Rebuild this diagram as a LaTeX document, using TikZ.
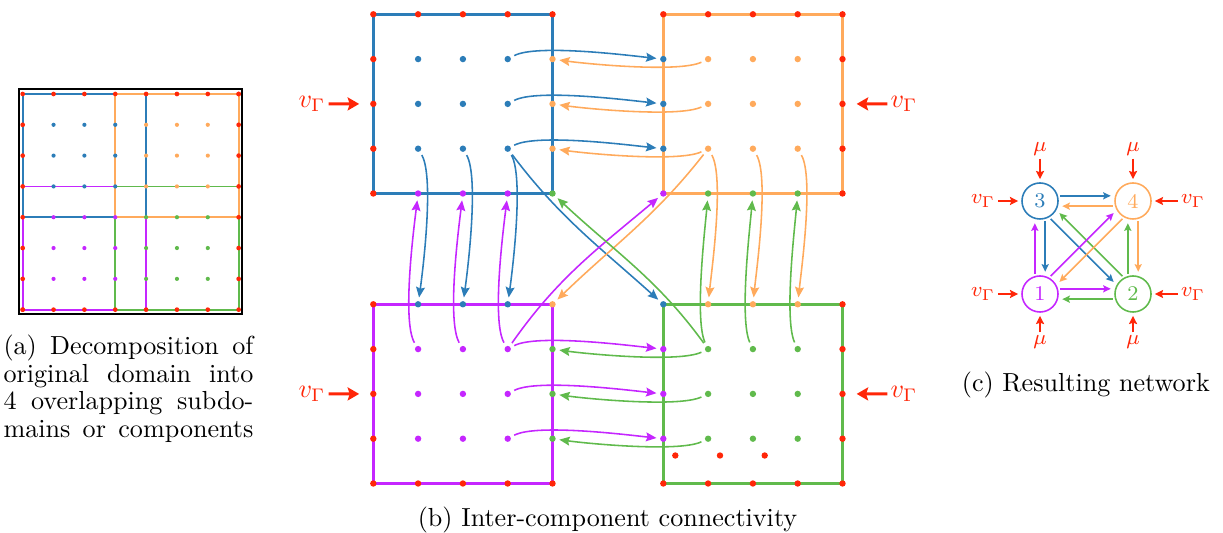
\documentclass[tikz,border=0pt]{standalone}
\usepackage{amsmath,amssymb}
\usepackage{tikz}
\usetikzlibrary{arrows.meta}

\definecolor{cblue}{RGB}{44,125,184}
\definecolor{corange}{RGB}{255,170,92}
\definecolor{cpurple}{RGB}{197,38,255}
\definecolor{cgreen}{RGB}{96,186,76}
\definecolor{cred}{RGB}{255,38,8}

\tikzset{
  gdot/.style={circle,fill=#1,inner sep=0pt,minimum size=2.45pt},
  link/.style={#1,line width=0.6pt,looseness=0.5,-{Stealth[length=4pt,width=3.4pt,inset=0.6pt]},shorten <=1.4pt,shorten >=1.2pt},
  feed/.style={cred,line width=1.15pt,-{Stealth[length=4.4pt,width=5pt,inset=0.8pt]},shorten >=4pt},
  comp/.style={circle,draw=#1,text=#1,line width=0.6pt,minimum size=13.8pt,inner sep=0pt,font=\fontsize{8}{9}\selectfont},
  net/.style={#1,line width=0.6pt,-{Stealth[length=2.9pt,width=2.7pt,inset=0.5pt]},shorten <=0.8pt,shorten >=1.6pt},
  inflow/.style={cred,line width=0.8pt,-{Stealth[length=3.1pt,width=3.1pt,inset=0.5pt]},shorten >=1.2pt},
  lbl/.style={text=cred,inner sep=1pt},
}

\begin{document}
\begin{tikzpicture}[x=0.383pt,y=-0.383pt]
\useasboundingbox (0,0) rectangle (1223,533);

% (a) domain and its four overlapping parts
\draw[line width=0.75pt] (19,89) rectangle (242,314);
\begin{scope}[shift={(22.7,94)},x=11.815pt,y=-11.8pt]
  \draw[cpurple,line width=0.7pt] (0,3) rectangle (4,7);
  \draw[cgreen,line width=0.7pt] (3,3) rectangle (7,7);
  \draw[cblue,line width=0.7pt] (0,0) rectangle (4,4);
  \draw[corange,line width=0.7pt] (3,0) rectangle (7,4);
  \foreach \j in {1,2,3} {
    \foreach \i in {1,2,3} \fill[cblue] (\i,\j) circle (0.8pt);
    \foreach \i in {4,5,6} \fill[corange] (\i,\j) circle (0.8pt);
  }
  \foreach \j in {4,5,6} {
    \foreach \i in {1,2,3} \fill[cpurple] (\i,\j) circle (0.8pt);
    \foreach \i in {4,5,6} \fill[cgreen] (\i,\j) circle (0.8pt);
  }
  \foreach \k in {0,...,7}
    \fill[cred] (\k,0) circle (0.9pt) (\k,7) circle (0.9pt) (0,\k) circle (0.9pt) (7,\k) circle (0.9pt);
\end{scope}
\node[anchor=north west,inner sep=0pt,align=left,font=\fontsize{10}{10.7}\selectfont] (capA) at (3,334)
  {\makebox[95.7pt][s]{(a) Decomposition of}\\
   \makebox[95.7pt][s]{original domain into}\\
   \makebox[95.7pt][s]{4 overlapping subdo-}\\
   \makebox[95.7pt][s]{mains or components}};

% (b) the four components, points coloured by their owner
\foreach \nm/\ox/\oy/\cc/\hc/\vc/\dc/\hside/\vside in {
    B/373.3/14.3/cblue/corange/cpurple/cgreen/4/4,
    O/663.3/14.3/corange/cblue/cgreen/cpurple/0/4,
    P/373.3/304.3/cpurple/cgreen/cblue/corange/4/0,
    G/663.3/304.3/cgreen/cpurple/corange/cblue/0/0} {
  \draw[\cc,line width=1pt] (\ox,\oy) rectangle ++(179.2,179.2);
  \foreach \i in {0,...,4} \foreach \j in {0,...,4} {
    \edef\pc{cred}
    \ifnum\i>0 \ifnum\i<4 \ifnum\j>0 \ifnum\j<4 \edef\pc{\cc}\fi\fi\fi\fi
    \ifnum\i=\hside\relax \ifnum\j>0 \ifnum\j<4 \edef\pc{\hc}\fi\fi\fi
    \ifnum\j=\vside\relax \ifnum\i>0 \ifnum\i<4 \edef\pc{\vc}\fi\fi\fi
    \ifnum\i=\hside\relax \ifnum\j=\vside\relax \edef\pc{\dc}\fi\fi
    \node[gdot=\pc] (\nm-\i-\j) at (\ox+44.8*\i,\oy+44.8*\j) {};
  }
}
\foreach \k in {0,1,2}
  \node[gdot=cred] (G-s\k) at (675.3+44.7*\k,455.5) {};

\foreach \k in {1,2,3} {
  \draw[link=cblue] (B-3-\k) to[out=28,in=174] (O-0-\k);
  \draw[link=cblue] (B-\k-3) to[out=-60,in=82] (P-\k-0);
  \draw[link=corange] (O-1-\k) to[out=205,in=-8] (B-4-\k);
  \draw[link=corange] (O-\k-3) to[out=-60,in=84] (G-\k-0);
  \draw[link=cpurple] (P-3-\k) to[out=28,in=174] (G-0-\k);
  \draw[link=cpurple] (P-\k-1) to[out=120,in=-97] (B-\k-4);
  \draw[link=cgreen] (G-1-\k) to[out=205,in=-8] (P-4-\k);
  \draw[link=cgreen] (G-\k-1) to[out=115,in=-95] (O-\k-4);
}
\draw[link=cblue,looseness=1] (B-3-3) to[out=-53,in=138] (G-0-0);
\draw[link=corange,looseness=1] (O-1-3) to[out=-128,in=44] (P-4-0);
\draw[link=cpurple,looseness=1] (P-3-1) to[out=55,in=-140] (O-0-4);
\draw[link=cgreen,looseness=1] (G-1-1) to[out=126,in=-43] (B-4-4);

\node[lbl] (vB) at (312,104) {$v_\Gamma$};
\node[lbl] (vO) at (904,104) {$v_\Gamma$};
\node[lbl] (vP) at (312,394) {$v_\Gamma$};
\node[lbl] (vG) at (904,394) {$v_\Gamma$};
\draw[feed] (vB) -- (B-0-2);
\draw[feed] (vO) -- (O-4-2);
\draw[feed] (vP) -- (P-0-2);
\draw[feed] (vG) -- (G-4-2);
\node[anchor=base] (capB) at (607.5,526.5) {(b) Inter-component connectivity};

% (c) network of the components
\node[comp=cblue] (n3) at (1040,201) {3};
\node[comp=corange] (n4) at (1133,201) {4};
\node[comp=cpurple] (n1) at (1040,294) {1};
\node[comp=cgreen] (n2) at (1133,294) {2};
\draw[net=cblue] (n3.16) -- (n4.164);
\draw[net=corange] (n4.196) -- (n3.-16);
\draw[net=cpurple] (n1.16) -- (n2.164);
\draw[net=cgreen] (n2.196) -- (n1.-16);
\draw[net=cpurple] (n1.106) -- (n3.254);
\draw[net=cblue] (n3.286) -- (n1.74);
\draw[net=cgreen] (n2.106) -- (n4.254);
\draw[net=corange] (n4.286) -- (n2.74);
\draw[net=cblue] (n3.-61) -- (n2.151);
\draw[net=cgreen] (n2.119) -- (n3.-29);
\draw[net=cpurple] (n1.61) -- (n4.209);
\draw[net=corange] (n4.241) -- (n1.29);

\begin{scope}[font=\fontsize{8}{9}\selectfont]
  \node[lbl] (m3) at (1040,149) {$\mu$};
  \node[lbl] (m4) at (1133,149) {$\mu$};
  \node[lbl] (m1) at (1040,342) {$\mu$};
  \node[lbl] (m2) at (1133,342) {$\mu$};
  \node[lbl] (w3) at (983,201) {$v_\Gamma$};
  \node[lbl] (w4) at (1193,201) {$v_\Gamma$};
  \node[lbl] (w1) at (983,294) {$v_\Gamma$};
  \node[lbl] (w2) at (1193,294) {$v_\Gamma$};
\end{scope}
\foreach \s/\t in {m3/n3,m4/n4,m1/n1,m2/n2,w3/n3,w4/n4,w1/n1,w2/n2}
  \draw[inflow] (\s) -- (\t);
\node[anchor=base] (capC) at (1085.8,391.3) {(c) Resulting network};
\end{tikzpicture}
\end{document}
